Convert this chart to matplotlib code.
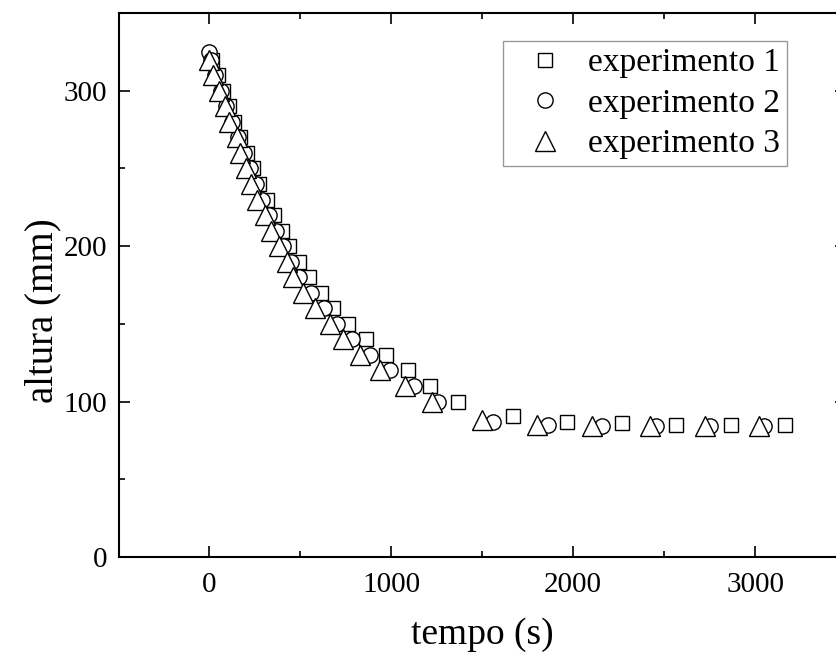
import matplotlib
matplotlib.use('Agg')
import matplotlib.pyplot as plt
from matplotlib.ticker import MultipleLocator

plt.rcParams['font.family'] = ['Liberation Serif', 'DejaVu Serif']
plt.rcParams['mathtext.fontset'] = 'stix'

# experimento 1 (squares)
t1 = [16, 45, 75, 105, 135, 170, 209, 240, 275, 315, 355, 400, 440, 490,
      550, 615, 680, 760, 858, 969, 1090, 1211, 1365,
      1668, 1968, 2268, 2565, 2865, 3165]
h1 = [320, 310, 300, 290, 280, 270, 260, 250, 240, 230, 220, 210, 200, 190,
      180, 170, 160, 150, 140, 130, 120, 110, 100,
      91, 87, 86, 85, 85, 85]

# experimento 2 (circles)
t2 = [0, 8, 28, 62, 92, 122, 158, 190, 222, 255, 290, 328, 366, 406, 448,
      490, 560, 630, 700, 785, 880, 990, 1125, 1255,
      1560, 1860, 2160, 2455, 2752, 3050]
h2 = [325, 320, 310, 300, 290, 280, 270, 260, 250, 240, 230, 220, 210, 200,
      190, 180, 170, 160, 150, 140, 130, 120, 110, 100,
      87, 85, 84, 84, 84, 84]

# experimento 3 (triangles)
t3 = [0, 17, 55, 83, 110, 149, 170, 200, 231, 264, 303, 341, 385, 424,
      460, 515, 578, 660, 732, 826, 936, 1073, 1222,
      1500, 1800, 2105, 2420, 2722, 3020]
h3 = [320, 310, 300, 290, 280, 270, 260, 250, 240, 230, 220, 210, 200, 190,
      180, 170, 160, 150, 140, 130, 120, 110, 100,
      88, 85, 84, 84, 84, 84]

fig = plt.figure(figsize=(8.37, 6.57), dpi=100)
# axes run past the right edge of the picture, like the cropped original
ax = fig.add_axes((0.1416, 0.1522, 0.8692, 0.828))

ax.plot(t1, h1, linestyle='none', marker='s', ms=10, mfc='white',
        mec='black', mew=1.0, label='experimento 1', zorder=3)
ax.plot(t2, h2, linestyle='none', marker='o', ms=11, mfc='white',
        mec='black', mew=1.0, label='experimento 2', zorder=4)
ax.plot(t3, h3, linestyle='none', marker='^', ms=14, mfc='white',
        mec='black', mew=1.0, label='experimento 3', zorder=5)

ax.set_xlim(-500, 3500)
ax.set_ylim(0, 350)
ax.xaxis.set_major_locator(MultipleLocator(1000))
ax.xaxis.set_minor_locator(MultipleLocator(500))
ax.yaxis.set_major_locator(MultipleLocator(100))
ax.yaxis.set_minor_locator(MultipleLocator(50))

ax.tick_params(which='both', direction='in', top=True, right=True,
               labelsize=21, width=1.2)
ax.tick_params(axis='x', pad=11)
ax.tick_params(axis='y', pad=8)
ax.tick_params(which='major', length=8)
ax.tick_params(which='minor', length=4)
for s in ax.spines.values():
    s.set_linewidth(1.5)

ax.set_xlabel('tempo (s)', fontsize=27, labelpad=14)
ax.set_ylabel('altura (mm)', fontsize=28)
ax.yaxis.set_label_coords(-0.078, 0.452)

leg = ax.legend(loc='upper left', bbox_to_anchor=(0.5285, 0.9485),
                borderaxespad=0, fontsize=24, frameon=True, fancybox=False,
                handletextpad=0.25, labelspacing=0.3, borderpad=0.2,
                handlelength=2.1)
leg.get_frame().set_edgecolor('gray')
leg.get_frame().set_linewidth(1.0)

plt.savefig('out.png', dpi=100)
